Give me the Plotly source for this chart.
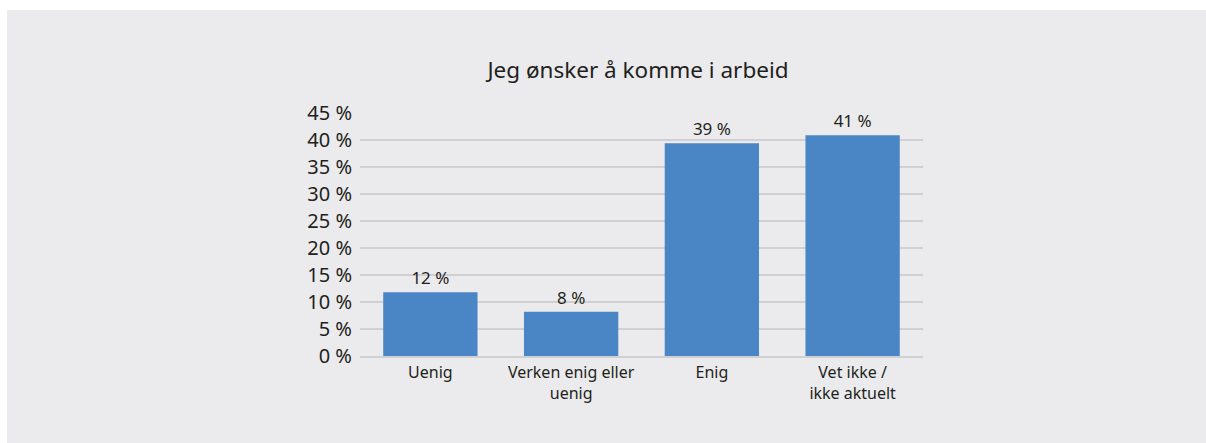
import plotly.graph_objects as go

categories = ["Uenig", "Verken enig eller<br>uenig", "Enig", "Vet ikke /<br>ikke aktuelt"]
values = [11.8, 8.2, 39.4, 40.9]
labels = ["12 %", "8 %", "39 %", "41 %"]

_BG = "#ebebed"
_BAR = "#4a86c6"
_GRID = "#d0d0d2"
_TEXT = "#231f20"
_FONT = "Noto Sans"

W, H = 1206, 443
L, R, T, B = 360, 923, 113, 356  # plot area in pixels

fig = go.Figure()

fig.add_trace(
    go.Bar(
        x=categories,
        y=values,
        text=labels,
        textposition="outside",
        cliponaxis=False,
        textfont=dict(size=17, color=_TEXT, family=_FONT),
        marker=dict(color=_BAR, line=dict(width=0)),
        width=0.67,
        hoverinfo="skip",
    )
)

# grey panel with a thin white border on the left and top
pw, ph = R - L, B - T
fig.add_shape(
    type="rect", xref="paper", yref="paper", layer="below",
    x0=(7 - L) / pw, x1=(W - L) / pw + 0.01,
    y0=(B - H) / ph - 0.01, y1=(B - 10) / ph,
    fillcolor=_BG, line=dict(width=0),
)

fig.update_layout(
    width=W,
    height=H,
    paper_bgcolor="white",
    plot_bgcolor=_BG,
    margin=dict(l=L, r=W - R, t=T, b=H - B, pad=0),
    showlegend=False,
    font=dict(family=_FONT, color=_TEXT),
    title=dict(
        text="Jeg ønsker å komme i arbeid",
        x=638 / W, xanchor="center",
        y=1 - 70 / H, yanchor="middle",
        font=dict(size=22.5, color=_TEXT, family=_FONT),
    ),
)
fig.update_xaxes(
    showgrid=False,
    showline=True,
    linecolor=_GRID,
    linewidth=1.5,
    tickfont=dict(size=16, color=_TEXT),
    ticks="outside",
    ticklen=1,
    tickcolor="rgba(0,0,0,0)",
)
fig.update_yaxes(
    range=[0, 45],
    dtick=5,
    ticksuffix=" %",
    showgrid=True,
    gridcolor=_GRID,
    gridwidth=1.5,
    zeroline=False,
    tickfont=dict(size=20, color=_TEXT),
    ticks="outside",
    ticklen=3,
    tickcolor="rgba(0,0,0,0)",
)

fig.write_html(
    "out.html",
    config={"displayModeBar": False},
    post_script=(
        "document.body.style.margin='0';"
        "document.body.style.overflow='hidden';"
        "document.documentElement.style.overflow='hidden';"
    ),
)
